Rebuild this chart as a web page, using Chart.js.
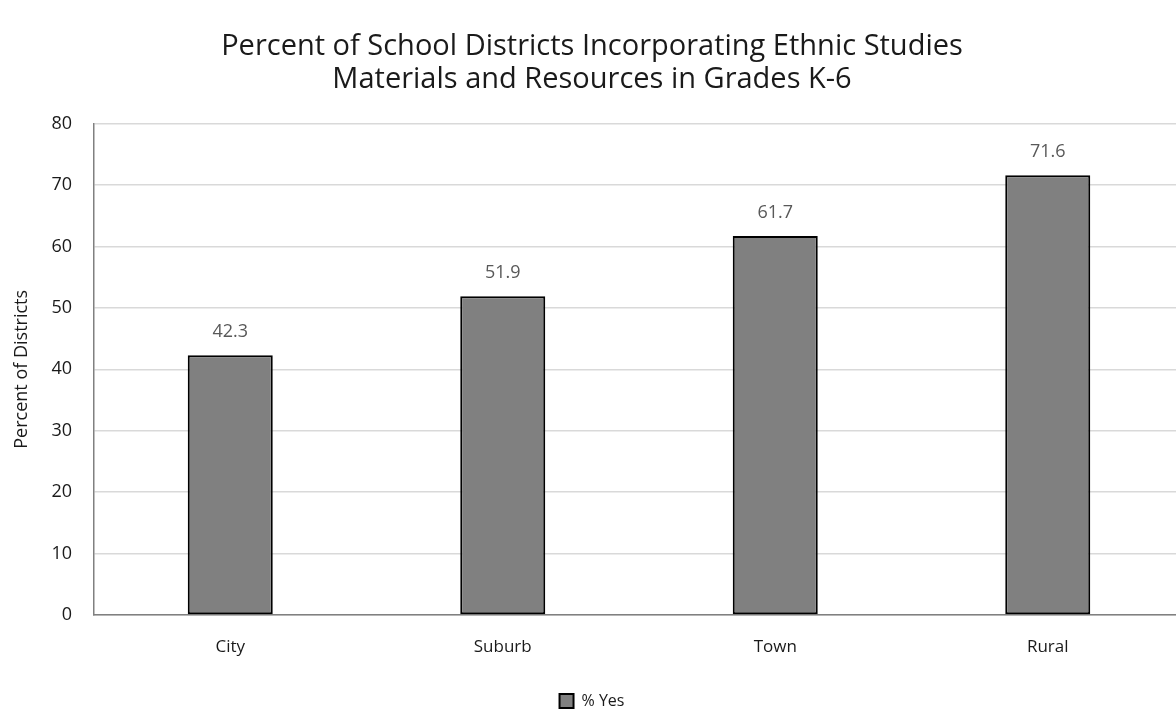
<!DOCTYPE html>
<html>
<head>
<meta charset="utf-8">
<script src="https://cdn.jsdelivr.net/npm/chart.js@4.4.0/dist/chart.umd.min.js"></script>
<style>
  html, body { margin: 0; padding: 0; background: #fff; overflow: hidden; }
  #wrap { width: 1190px; height: 719px; }
</style>
</head>
<body>
<div id="wrap"><canvas id="chart"></canvas></div>
<script>
var categories = ["City", "Suburb", "Town", "Rural"];
var yesValues = [42.3, 51.9, 61.7, 71.6];
var yTicks = [0, 10, 20, 30, 40, 50, 60, 70, 80];

var fontName = "'Open Sans', 'Noto Sans', sans-serif";

// labels above each bar
var barLabels = {
  id: "barLabels",
  afterDatasetsDraw(chart) {
    var ctx = chart.ctx;
    var meta = chart.getDatasetMeta(0);
    ctx.save();
    ctx.font = "18px " + fontName;
    ctx.fillStyle = "#595959";
    ctx.textAlign = "center";
    ctx.textBaseline = "middle";
    meta.data.forEach(function (bar, i) {
      ctx.fillText(yesValues[i].toFixed(1), bar.x, bar.y - 23);
    });
    ctx.restore();
  }
};

new Chart(document.getElementById("chart"), {
  type: "bar",
  data: {
    labels: categories,
    datasets: [{
      label: "% Yes",
      data: yesValues,
      backgroundColor: "#808080",
      borderColor: "#000000",
      borderWidth: 2,
      borderSkipped: false,
      categoryPercentage: 1.0,
      barPercentage: 0.312
    }]
  },
  options: {
    responsive: true,
    maintainAspectRatio: false,
    animation: false,
    layout: { padding: { left: 0, right: 6, top: 30, bottom: 0 } },
    plugins: {
      title: {
        display: true,
        text: ["Percent of School Districts Incorporating Ethnic Studies", "Materials and Resources in Grades K-6"],
        color: "#1a1a1a",
        font: { family: fontName, size: 29, weight: "normal", lineHeight: 1.15 },
        padding: { top: 0, bottom: 27 }
      },
      legend: {
        position: "bottom",
        labels: {
          color: "#1a1a1a",
          font: { family: fontName, size: 16 },
          boxWidth: 14,
          boxHeight: 14,
          padding: 2
        }
      },
      tooltip: { enabled: false }
    },
    scales: {
      x: {
        grid: { display: false, drawTicks: false },
        border: { color: "#808080", width: 1.5 },
        ticks: { color: "#1a1a1a", font: { family: fontName, size: 17 }, padding: 22 },
        afterFit(scale) { scale.height = 76; }
      },
      y: {
        min: 0,
        max: 80,
        afterBuildTicks(scale) { scale.ticks = yTicks.map(function (v) { return { value: v }; }); },
        grid: { color: "#d9d9d9", lineWidth: 1.5, drawTicks: false },
        border: { color: "#808080", width: 1.5 },
        ticks: { color: "#1a1a1a", font: { family: fontName, size: 18 }, padding: 22 },
        title: {
          display: true,
          text: "Percent of Districts",
          color: "#1a1a1a",
          font: { family: fontName, size: 18 },
          padding: { top: 11, bottom: 8 }
        },
        afterFit(scale) { scale.width = 94; }
      }
    }
  },
  plugins: [barLabels]
});
</script>
</body>
</html>
